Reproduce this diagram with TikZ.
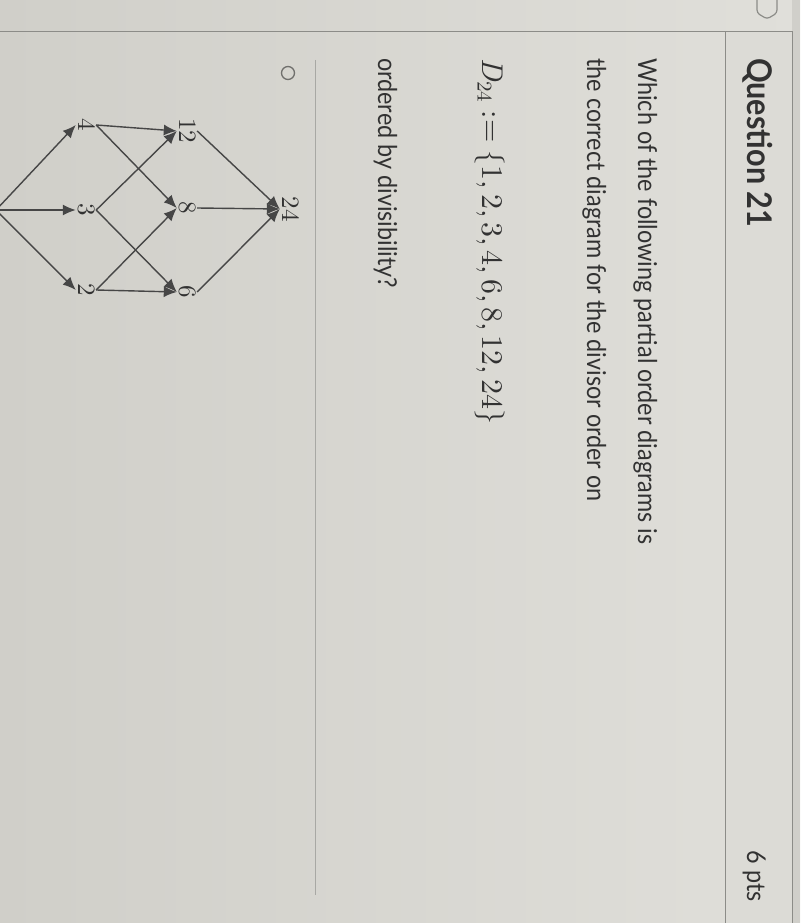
\documentclass[tikz,border=0pt]{standalone}
\usepackage{fontspec}
\usepackage{graphicx}
\setmainfont{Lato}
\newfontfamily\lmr{lmroman10-regular.otf}[ItalicFont=lmroman10-italic.otf]
\usetikzlibrary{arrows.meta}
\definecolor{bgl}{RGB}{208,207,201}
\definecolor{bgr}{RGB}{224,223,218}
\definecolor{bandc}{RGB}{220,219,214}
\definecolor{outc}{RGB}{208,207,202}
\definecolor{borderc}{RGB}{140,140,136}
\definecolor{sepc}{RGB}{168,168,164}
\definecolor{txtc}{RGB}{50,50,50}
\definecolor{linec}{RGB}{70,70,70}
\newcommand{\cm}{\hspace{0.1667em}}
\newcommand{\nar}[1]{\scalebox{0.9}[1]{#1}}
\begin{document}
\begin{tikzpicture}[x=1pt,y=-1pt,
  txt/.style={rotate=-90,anchor=base west,inner sep=0pt,text=txtc},
  num/.style={rotate=-90,inner sep=2pt,text=txtc,font=\lmr\fontsize{25}{25}\selectfont,text height=16pt,text depth=0pt},
  edge/.style={draw=linec,line width=1.4pt,-{Latex[length=13pt,width=11pt]}},
  bodyfont/.style={font=\fontsize{26}{30}\selectfont}
]
\useasboundingbox (0,0) rectangle (800,923);
\clip (0,0) rectangle (800,923);
\shade[left color=bgl,right color=bgr] (0,0) rectangle (800,923);
\fill[bandc] (725,32) rectangle (792,923);
\fill[outc] (792,0) rectangle (800,923);
\draw[borderc,line width=1pt] (0,32) -- (792,32) -- (792,923);
\draw[borderc,line width=1pt] (725,32) -- (725,923);
\draw[borderc,line width=1.2pt,rounded corners=3pt] (757,-5) -- (757,13) -- (767,19) -- (777,13) -- (777,-5);
% texts
\node[txt,font=\bfseries\fontsize{34}{36}\selectfont] (title) at (747,58) {\nar{Question 21}};
\node[txt,bodyfont,anchor=base east] (pts) at (747,902) {\nar{6 pts}};
\node[txt,bodyfont] (l1) at (638,58) {\nar{Which of the following partial order diagrams is}};
\node[txt,bodyfont] (l2) at (587,58) {\nar{the correct diagram for the divisor order on}};
\node[txt,font=\lmr\fontsize{30}{32}\selectfont] (l3) at (482,58) {\textit{D}\raisebox{-0.15em}{\fontsize{21}{21}\selectfont 24}\hspace{0.28em}:=\hspace{0.28em}\{1,\cm2,\cm3,\cm4,\cm6,\cm8,\cm12,\cm24\}};
\node[txt,bodyfont] (l4) at (378,58) {\nar{ordered by divisibility?}};
\draw[borderc!80!black,line width=1.3pt] (288,73) circle (6.5);
\draw[sepc,line width=1pt] (315,60) -- (315,895);
% diagram
\coordinate (n1) at (-4,210);
\node[num] (n4) at (86,125) {4};
\node[num] (n3) at (86,210) {3};
\node[num] (n2) at (86,290) {2};
\node[num] (n12) at (187,131) {12};
\node[num] (n8) at (187,208) {8};
\node[num] (n6) at (187,292) {6};
\node[num] (n24) at (290,209) {24};
\draw[edge] (n1) -- (n4.south);
\draw[edge] (n1) -- (n3.south);
\draw[edge] (n1) -- (n2.south);
\draw[edge] (n4.north) -- (n12.south);
\draw[edge] (n4.north) -- (n8.south);
\draw[edge] (n3.north) -- (n12.south);
\draw[edge] (n3.north) -- (n6.south);
\draw[edge] (n2.north) -- (n8.south);
\draw[edge] (n2.north) -- (n6.south);
\draw[edge] (n12.north) -- (n24.south);
\draw[edge] (n8.north) -- (n24.south);
\draw[edge] (n6.north) -- (n24.south);
\end{tikzpicture}
\end{document}
